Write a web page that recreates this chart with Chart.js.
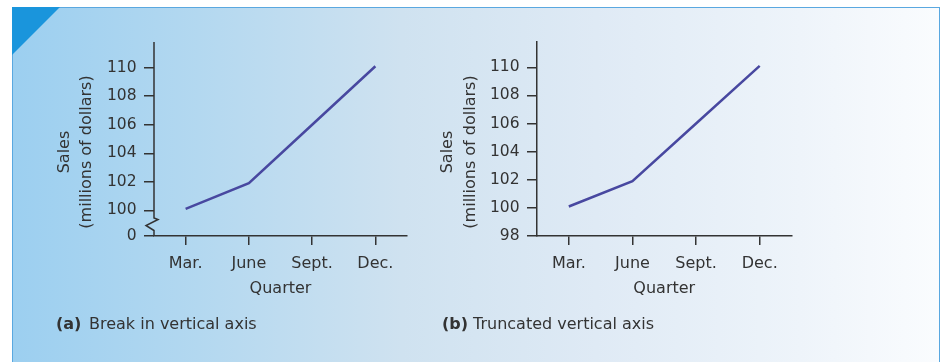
<!DOCTYPE html>
<html><head><meta charset="utf-8">
<script src="https://cdn.jsdelivr.net/npm/chart.js@4.4.1/dist/chart.umd.min.js"></script>
<style>
html,body{margin:0;padding:0;background:#fff;}
body{width:945px;height:362px;position:relative;overflow:hidden;font-family:"DejaVu Sans",sans-serif;}
#panel{position:absolute;left:12px;top:7px;width:928px;height:362px;box-sizing:border-box;
  border:1.5px solid #5aa8e0;border-bottom:none;
  background:linear-gradient(to right,#9ccff0 0%,#b3d8f0 20%,#cfe2f0 42%,#dfeaf5 63%,#eef4fa 85%,#fafcfe 100%);}
#corner{position:absolute;left:12px;top:7px;width:48px;height:48px;background:#1a95dc;clip-path:polygon(0 0,100% 0,0 100%);}
canvas{position:absolute;top:0;}
#ca{left:0;}
#cb{left:430px;}
.cap{position:absolute;top:314px;font-size:16px;line-height:19px;color:#333;white-space:nowrap;}
.b{font-weight:bold;}
</style>
</head><body>
<div id="panel"></div>
<div id="corner"></div>
<canvas id="ca" width="430" height="362"></canvas>
<canvas id="cb" width="515" height="362"></canvas>
<div class="cap b" style="left:56px">(a)</div>
<div class="cap" style="left:89px">Break in vertical axis</div>
<div class="cap b" style="left:442px">(b)</div>
<div class="cap" style="left:473px">Truncated vertical axis</div>
<script>
const quarters = ['Mar.', 'June', 'Sept.', 'Dec.'];
const sales = [100.1, 101.9, 106.0, 110.1];
const yTicksA = [100, 102, 104, 106, 108, 110];
const breakLabel = '0';
const yTicksB = [98, 100, 102, 104, 106, 108, 110];
const xTitle = 'Quarter';
const yTitle = ['Sales', '(millions of dollars)'];

Chart.defaults.font.family = 'DejaVu Sans';
Chart.defaults.color = '#333';

const INK = '#333';

const yTitlePlugin = {
  id: 'yTitle',
  afterDraw(chart, args, opts) {
    const ctx = chart.ctx;
    ctx.save();
    ctx.fillStyle = INK;
    ctx.font = '16px "DejaVu Sans"';
    ctx.textAlign = 'center';
    ctx.textBaseline = 'middle';
    yTitle.forEach((t, i) => {
      ctx.save();
      ctx.translate(opts.xs[i], opts.y);
      ctx.rotate(-Math.PI / 2);
      ctx.fillText(t, 0, 0);
      ctx.restore();
    });
    ctx.restore();
  }
};

const breakAxisPlugin = {
  id: 'breakAxis',
  afterDraw(chart, args, opts) {
    if (!opts.enabled) return;
    const ctx = chart.ctx;
    const a = chart.chartArea;
    const x = a.left;
    const b = a.bottom;
    ctx.save();
    ctx.strokeStyle = INK;
    ctx.lineWidth = 1.5;
    ctx.lineJoin = 'miter';
    ctx.beginPath();
    ctx.moveTo(x, a.top);
    ctx.lineTo(x, b - 18);
    ctx.lineTo(x + 4, b - 16.5);
    ctx.lineTo(x - 8, b - 10.5);
    ctx.lineTo(x, b - 5.5);
    ctx.lineTo(x, b);
    ctx.stroke();
    ctx.restore();
  }
};

function makeChart(id, cfg) {
  return new Chart(document.getElementById(id), {
    type: 'line',
    data: {
      labels: quarters,
      datasets: [{
        data: sales,
        borderColor: '#4848a0',
        borderWidth: 2.5,
        pointRadius: 0,
        tension: 0,
        fill: false
      }]
    },
    options: {
      responsive: false,
      animation: false,
      events: [],
      layout: { padding: cfg.padding },
      plugins: {
        legend: { display: false },
        tooltip: { enabled: false },
        yTitle: { xs: cfg.titleXs, y: 152 },
        breakAxis: { enabled: cfg.breakAxis }
      },
      scales: {
        x: {
          type: 'category',
          offset: true,
          grid: { display: true, offset: false, drawOnChartArea: false, drawTicks: true, tickLength: 9, color: INK, lineWidth: 1.5 },
          border: { display: true, color: INK, width: 1.5 },
          ticks: { font: { size: 16 }, color: INK, padding: 9.5, maxRotation: 0, autoSkip: false },
          title: { display: true, text: xTitle, font: { size: 16 }, color: INK, padding: 0 },
          afterFit: s => { s.height = 62; }
        },
        y: {
          type: 'linear',
          min: cfg.min,
          max: 111.8,
          grid: { display: true, drawOnChartArea: false, drawTicks: true, tickLength: 10, color: INK, lineWidth: 1.5 },
          border: { display: !cfg.breakAxis, color: INK, width: 1.5 },
          afterBuildTicks: s => { s.ticks = cfg.ticks.map(v => ({ value: v })); },
          ticks: {
            font: { size: 15.5 }, color: INK, padding: 7.5,
            callback: v => (cfg.breakAxis && v === cfg.min) ? breakLabel : String(v)
          },
          afterFit: s => { s.width = cfg.yWidth; }
        }
      }
    },
    plugins: [yTitlePlugin, breakAxisPlugin]
  });
}

makeChart('ca', {
  padding: { left: 0, top: 42, right: 23, bottom: 64 },
  titleXs: [64.5, 86.7],
  breakAxis: true,
  min: 98.2,
  ticks: [98.2].concat(yTicksA),
  yWidth: 154
});

makeChart('cb', {
  padding: { left: 0, top: 42, right: 153.5, bottom: 64 },
  titleXs: [18.3, 40.7],
  breakAxis: false,
  min: 98,
  ticks: yTicksB,
  yWidth: 107
});
</script>
</body></html>
